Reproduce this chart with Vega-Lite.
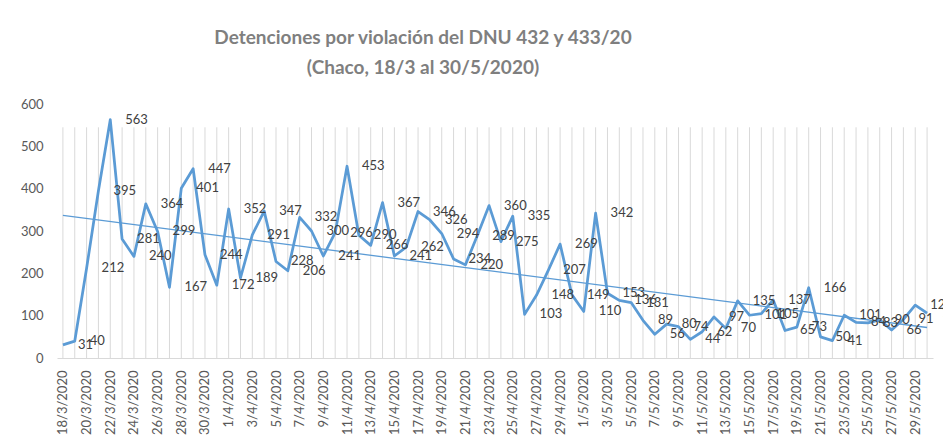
{
  "$schema": "https://vega.github.io/schema/vega-lite/v6.json",
  "width": 876,
  "height": 254,
  "autosize": {"type": "none"},
  "padding": {"left": 57, "right": 10, "top": 104, "bottom": 86},
  "background": "white",
  "config": {"view": {"stroke": null}, "font": "Lato"},
  "title": {
    "text": ["Detenciones por violación del DNU 432 y 433/20", "(Chaco, 18/3 al 30/5/2020)"],
    "fontSize": 19,
    "fontWeight": "bold",
    "color": "#7f7f7f",
    "font": "Lato",
    "lineHeight": 30,
    "anchor": "middle",
    "dx": -72,
    "offset": 20
  },
  "data": {"values": [
    {"date": "2020-03-18", "value": 31}, {"date": "2020-03-19", "value": 40}, {"date": "2020-03-20", "value": 212},
    {"date": "2020-03-21", "value": 395}, {"date": "2020-03-22", "value": 563}, {"date": "2020-03-23", "value": 281},
    {"date": "2020-03-24", "value": 240}, {"date": "2020-03-25", "value": 364}, {"date": "2020-03-26", "value": 299},
    {"date": "2020-03-27", "value": 167}, {"date": "2020-03-28", "value": 401}, {"date": "2020-03-29", "value": 447},
    {"date": "2020-03-30", "value": 244}, {"date": "2020-03-31", "value": 172}, {"date": "2020-04-01", "value": 352},
    {"date": "2020-04-02", "value": 189}, {"date": "2020-04-03", "value": 291}, {"date": "2020-04-04", "value": 347},
    {"date": "2020-04-05", "value": 228}, {"date": "2020-04-06", "value": 206}, {"date": "2020-04-07", "value": 332},
    {"date": "2020-04-08", "value": 300}, {"date": "2020-04-09", "value": 241}, {"date": "2020-04-10", "value": 296},
    {"date": "2020-04-11", "value": 453}, {"date": "2020-04-12", "value": 290}, {"date": "2020-04-13", "value": 266},
    {"date": "2020-04-14", "value": 367}, {"date": "2020-04-15", "value": 241}, {"date": "2020-04-16", "value": 262},
    {"date": "2020-04-17", "value": 346}, {"date": "2020-04-18", "value": 326}, {"date": "2020-04-19", "value": 294},
    {"date": "2020-04-20", "value": 234}, {"date": "2020-04-21", "value": 220}, {"date": "2020-04-22", "value": 289},
    {"date": "2020-04-23", "value": 360}, {"date": "2020-04-24", "value": 275}, {"date": "2020-04-25", "value": 335},
    {"date": "2020-04-26", "value": 103}, {"date": "2020-04-27", "value": 148}, {"date": "2020-04-28", "value": 207},
    {"date": "2020-04-29", "value": 269}, {"date": "2020-04-30", "value": 149}, {"date": "2020-05-01", "value": 110},
    {"date": "2020-05-02", "value": 342}, {"date": "2020-05-03", "value": 153}, {"date": "2020-05-04", "value": 136},
    {"date": "2020-05-05", "value": 131}, {"date": "2020-05-06", "value": 89}, {"date": "2020-05-07", "value": 56},
    {"date": "2020-05-08", "value": 80}, {"date": "2020-05-09", "value": 74}, {"date": "2020-05-10", "value": 44},
    {"date": "2020-05-11", "value": 62}, {"date": "2020-05-12", "value": 97}, {"date": "2020-05-13", "value": 70},
    {"date": "2020-05-14", "value": 135}, {"date": "2020-05-15", "value": 101}, {"date": "2020-05-16", "value": 105},
    {"date": "2020-05-17", "value": 137}, {"date": "2020-05-18", "value": 65}, {"date": "2020-05-19", "value": 73},
    {"date": "2020-05-20", "value": 166}, {"date": "2020-05-21", "value": 50}, {"date": "2020-05-22", "value": 41},
    {"date": "2020-05-23", "value": 101}, {"date": "2020-05-24", "value": 84}, {"date": "2020-05-25", "value": 83},
    {"date": "2020-05-26", "value": 90}, {"date": "2020-05-27", "value": 66}, {"date": "2020-05-28", "value": 91},
    {"date": "2020-05-29", "value": 125}, {"date": "2020-05-30", "value": 106}
  ]},
  "encoding": {
    "x": {
      "field": "date",
      "type": "temporal",
      "scale": {
        "type": "utc",
        "domain": [
          {"year": 2020, "month": 3, "date": 17, "hours": 12, "utc": true},
          {"year": 2020, "month": 5, "date": 30, "hours": 12, "utc": true}
        ]
      },
      "axis": {
        "title": null,
        "tickCount": {"interval": "day", "step": 1},
        "labelExpr": "(round((datum.value - utc(2020,2,18)) / 86400000) % 2 == 0) ? utcFormat(datum.value, '%-d/%-m/%Y') : ''",
        "labelAngle": -90,
        "labelOverlap": false,
        "labelBound": false,
        "labelFlush": false,
        "ticks": false,
        "grid": false,
        "domainColor": "#d9d9d9",
        "domainWidth": 1,
        "labelColor": "#595959",
        "labelFontSize": 13,
        "labelFont": "Lato",
        "labelPadding": 12
      }
    },
    "y": {
      "field": "value",
      "type": "quantitative",
      "scale": {"domain": [0, 600], "nice": false},
      "axis": {
        "title": null,
        "values": [0, 100, 200, 300, 400, 500, 600],
        "domain": false,
        "ticks": false,
        "grid": false,
        "labelColor": "#595959",
        "labelFontSize": 13,
        "labelFont": "Lato",
        "labelPadding": 14
      }
    }
  },
  "layer": [
    {
      "data": {"values": [{}]},
      "mark": {
        "type": "rect",
        "color": {
          "gradient": "linear", "x1": 0, "y1": 0, "x2": 0, "y2": 1,
          "stops": [{"offset": 0, "color": "#ffffff"}, {"offset": 1, "color": "#ebebeb"}]
        }
      },
      "encoding": {
        "x": {"datum": {"year": 2020, "month": 3, "date": 17, "hours": 12, "utc": true}, "type": "temporal"},
        "x2": {"datum": {"year": 2020, "month": 5, "date": 30, "hours": 12, "utc": true}},
        "y": {"datum": 0, "type": "quantitative"},
        "y2": {"datum": 545}
      }
    },
    {
      "mark": {"type": "rule", "color": "#d9d9d9", "strokeWidth": 1},
      "encoding": {
        "y": {"datum": 0, "type": "quantitative"},
        "y2": {"datum": 545}
      }
    },
    {
      "transform": [{"regression": "value", "on": "date"}],
      "mark": {"type": "line", "color": "#5b9bd5", "strokeWidth": 1.3}
    },
    {
      "mark": {"type": "line", "color": "#5b9bd5", "strokeWidth": 2.75, "strokeJoin": "round"}
    },
    {
      "mark": {"type": "text", "align": "left", "baseline": "middle", "dx": 15, "fontSize": 13, "font": "Lato", "color": "#404040"},
      "encoding": {"text": {"field": "value", "type": "quantitative"}}
    }
  ]
}
